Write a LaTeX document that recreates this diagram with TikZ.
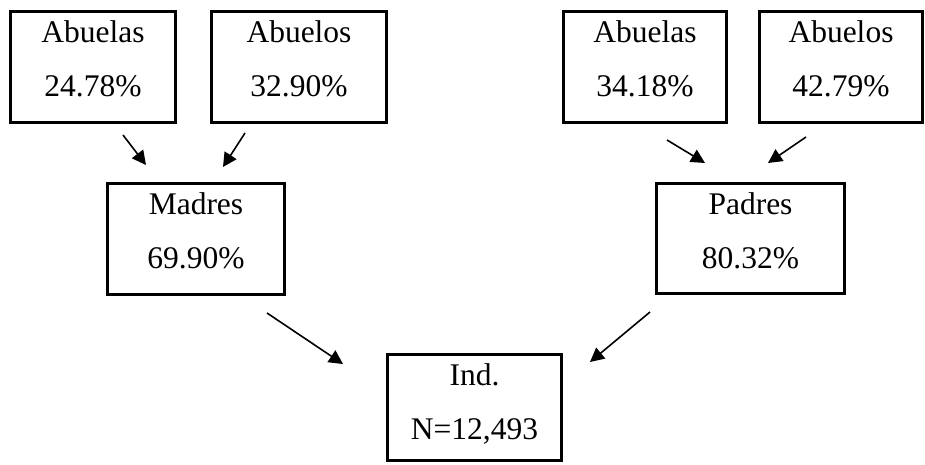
\documentclass[tikz,border=0pt]{standalone}
\usepackage{fontspec}
\setmainfont{Liberation Serif}
\usetikzlibrary{arrows.meta,calc}
\tikzset{
  box/.style={draw=black, line width=3.4pt, rectangle, inner sep=0pt, outer sep=0pt},
  txt/.style={anchor=base, inner sep=0pt, font=\fontsize{31.5}{32}\selectfont},
  arr/.style={line width=1.6pt, -{Triangle[length=14pt,width=14pt]}}
}
\begin{document}
\begin{tikzpicture}[x=1pt,y=-1pt]
\useasboundingbox (0,0) rectangle (925,464);
% boxes
\node[box, minimum width=165, minimum height=111] (b1) at (93,67) {};
\node[box, minimum width=175, minimum height=111] (b2) at (299,67) {};
\node[box, minimum width=163, minimum height=111] (b3) at (645,67) {};
\node[box, minimum width=163, minimum height=111] (b4) at (841,67) {};
\node[box, minimum width=177, minimum height=111] (m) at (196,239) {};
\node[box, minimum width=188, minimum height=110] (p) at (750.5,238.5) {};
\node[box, minimum width=174, minimum height=106] (ind) at (474.5,407.5) {};
% texts
\node[txt] (b1a) at ($(b1.north)+(0,31)$) {Abuelas};
\node[txt] (b1b) at ($(b1.north)+(0,85)$) {24.78\%};
\node[txt] (b2a) at ($(b2.north)+(0,31)$) {Abuelos};
\node[txt] (b2b) at ($(b2.north)+(0,85)$) {32.90\%};
\node[txt] (b3a) at ($(b3.north)+(0,31)$) {Abuelas};
\node[txt] (b3b) at ($(b3.north)+(0,85)$) {34.18\%};
\node[txt] (b4a) at ($(b4.north)+(0,31)$) {Abuelos};
\node[txt] (b4b) at ($(b4.north)+(0,85)$) {42.79\%};
\node[txt] (ma) at ($(m.north)+(0,31)$) {Madres};
\node[txt] (mb) at ($(m.north)+(0,85)$) {69.90\%};
\node[txt] (pa) at ($(p.north)+(0,31)$) {Padres};
\node[txt] (pb) at ($(p.north)+(0,85)$) {80.32\%};
\node[txt] (ia) at ($(ind.north)+(0,31)$) {Ind.};
\node[txt] (ib) at ($(ind.north)+(0,85)$) {N=12,493};
% arrow end points
\coordinate (s1) at (123,135); \coordinate (e1) at (146,165);
\coordinate (s2) at (245,133); \coordinate (e2) at (223,167);
\coordinate (s3) at (667,140); \coordinate (e3) at (705,163);
\coordinate (s4) at (806,137); \coordinate (e4) at (768,163);
\coordinate (s5) at (267,313); \coordinate (e5) at (343,364);
\coordinate (s6) at (650,312); \coordinate (e6) at (590,362);
\draw[arr] (s1) -- (e1);
\draw[arr] (s2) -- (e2);
\draw[arr] (s3) -- (e3);
\draw[arr] (s4) -- (e4);
\draw[arr] (s5) -- (e5);
\draw[arr] (s6) -- (e6);
\end{tikzpicture}
\end{document}
